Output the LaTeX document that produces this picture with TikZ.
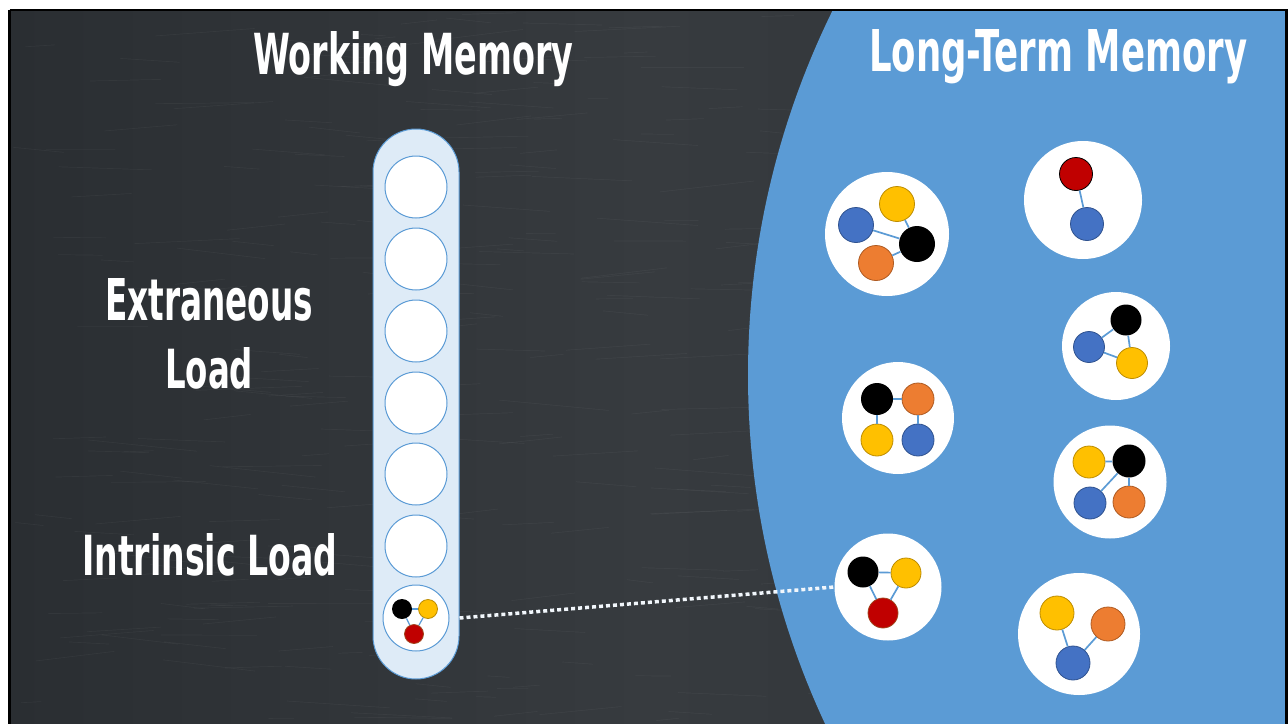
\documentclass[tikz,border=0pt]{standalone}
\usepackage{fontspec}
\usepackage{graphicx}
\newfontfamily\titlefont{DejaVu Sans Condensed}
\definecolor{ltm}{HTML}{5B9BD5}
\definecolor{capfill}{HTML}{DEEBF7}
\definecolor{nblue}{HTML}{4472C4}
\definecolor{nblueD}{HTML}{2F528F}
\definecolor{norange}{HTML}{ED7D31}
\definecolor{norangeD}{HTML}{AE5A21}
\definecolor{nyellow}{HTML}{FFC000}
\definecolor{nyellowD}{HTML}{BC8C00}
\definecolor{nred}{HTML}{C00000}
\definecolor{nredD}{HTML}{A0461E}
\definecolor{boardL}{HTML}{2A2E32}
\definecolor{boardM}{HTML}{373B3F}
\definecolor{boardR}{HTML}{2F3337}
\tikzset{
  wmcell/.style={circle, draw=ltm, fill=white, line width=1pt, minimum size=62pt, inner sep=0pt},
  grp/.style={circle, fill=white, inner sep=0pt},
  nd/.style={circle, inner sep=0pt, line width=0.8pt},
  bl/.style={nd, fill=nblue, draw=nblueD},
  og/.style={nd, fill=norange, draw=norangeD},
  yl/.style={nd, fill=nyellow, draw=nyellowD},
  rd/.style={nd, fill=nred, draw=nredD},
  bk/.style={nd, fill=black},
  edge/.style={draw=ltm, line width=1.7pt},
  title/.style={anchor=base west, inner sep=0pt, text=white},
  link/.style={draw=white!92!ltm, line width=3.5pt, dash pattern=on 4pt off 3pt}
}
\begin{document}
\begin{tikzpicture}[x=1pt,y=-1pt]
\useasboundingbox (0,0) rectangle (1288,723);
% board
\begin{scope}
  \clip (9.5,10) rectangle (1286.5,740);
  \shade[left color=boardL, right color=boardR, middle color=boardM] (9.5,10) rectangle (1286.5,740);
  \pgfmathsetseed{7}
  \foreach \i in {1,...,260}{
    \pgfmathsetmacro\xa{10+rnd*800}
    \pgfmathsetmacro\ya{12+rnd*710}
    \pgfmathsetmacro\len{20+rnd*90}
    \pgfmathsetmacro\ang{rand*7}
    \draw[white, opacity=0.04, line width=0.7pt] (\xa,\ya) -- ++(\ang:\len);
  }
  \fill[ltm] (1574,375) circle[radius=826];
\end{scope}
\draw[black, line width=2.5pt] (9.5,10) -- (1286.5,10) -- (1286.5,740);
\draw[black, line width=2.5pt] (9.5,10) -- (9.5,740);

% titles
\node[title] (twm) at (253,74) {\resizebox{320pt}{43pt}{\titlefont\bfseries Working Memory}};
\node[title] (tltm) at (869,71) {\resizebox{378pt}{42pt}{\titlefont\bfseries Long-Term Memory}};
\node[title] (text1) at (105,320) {\resizebox{208pt}{42pt}{\titlefont\bfseries Extraneous}};
\node[title] (text2) at (165,388) {\resizebox{88pt}{41pt}{\titlefont\bfseries Load}};
\node[title] (tint) at (82,575) {\resizebox{255pt}{42pt}{\titlefont\bfseries Intrinsic Load}};

% working memory capsule
\node[draw=ltm, fill=capfill, line width=1pt, rounded corners=43pt, minimum width=86pt, minimum height=550pt, inner sep=0pt] (cap) at (416,404) {};
\node[wmcell] (w1) at (416,187) {};
\node[wmcell] (w2) at (416,259) {};
\node[wmcell] (w3) at (416,331) {};
\node[wmcell] (w4) at (416,403) {};
\node[wmcell] (w5) at (416,474) {};
\node[wmcell] (w6) at (416,546) {};
\node[wmcell, minimum size=66pt] (w7) at (416,618) {};
\node[bk, minimum size=20pt] (w7k) at (402,609) {};
\node[yl, minimum size=19pt] (w7y) at (428,609) {};
\node[rd, minimum size=19pt] (w7r) at (414,634) {};
\draw[edge, line width=1.2pt] (w7k) -- (w7y);
\draw[edge, line width=1.2pt] (w7k) -- (w7r);
\draw[edge, line width=1.2pt] (w7y) -- (w7r);

% group A
\node[grp, minimum size=124pt] (gA) at (887,234) {};
\node[yl, minimum size=35pt] (aY) at (897,204) {};
\node[bl, minimum size=35pt] (aB) at (856,225) {};
\node[bk, minimum size=36pt] (aK) at (917,244) {};
\node[og, minimum size=35pt] (aO) at (876,263) {};
\draw[edge] (aB) -- (aK);
\draw[edge] (aY) -- (aK);
\draw[edge] (aO) -- (aK);

% group B
\node[grp, minimum size=118pt] (gB) at (1083,200) {};
\node[nd, fill=nred, draw=black, minimum size=33pt] (bR) at (1076,174) {};
\node[bl, minimum size=33pt] (bB) at (1087,224) {};
\draw[edge] (bR) -- (bB);

% group C
\node[grp, minimum size=108pt] (gC) at (1116,346) {};
\node[bk, minimum size=31pt] (cK) at (1126,320) {};
\node[bl, minimum size=31pt] (cB) at (1089,347) {};
\node[yl, minimum size=31pt] (cY) at (1132,363) {};
\draw[edge] (cB) -- (cK);
\draw[edge] (cK) -- (cY);
\draw[edge] (cB) -- (cY);

% group D
\node[grp, minimum size=112pt] (gD) at (898,418) {};
\node[bk, minimum size=32pt] (dK) at (877,399) {};
\node[og, minimum size=32pt] (dO) at (918,399) {};
\node[yl, minimum size=32pt] (dY) at (877,440) {};
\node[bl, minimum size=32pt] (dB) at (918,440) {};
\draw[edge] (dK) -- (dO);
\draw[edge] (dK) -- (dY);
\draw[edge] (dO) -- (dB);

% group E
\node[grp, minimum size=113pt] (gE) at (1110,482) {};
\node[yl, minimum size=32pt] (eY) at (1089,462) {};
\node[bk, minimum size=33pt] (eK) at (1129,461) {};
\node[bl, minimum size=32pt] (eB) at (1090,503) {};
\node[og, minimum size=32pt] (eO) at (1129,502) {};
\draw[edge] (eY) -- (eK);
\draw[edge] (eK) -- (eB);
\draw[edge] (eK) -- (eO);

% group F
\node[grp, minimum size=107pt] (gF) at (888,587) {};
\node[bk, minimum size=31pt] (fK) at (863,572) {};
\node[yl, minimum size=30pt] (fY) at (906,573) {};
\node[rd, minimum size=30pt] (fR) at (883,613) {};
\draw[edge] (fK) -- (fY);
\draw[edge] (fK) -- (fR);
\draw[edge] (fY) -- (fR);

% group G
\node[grp, minimum size=122pt] (gG) at (1079,634) {};
\node[yl, minimum size=34pt] (gY) at (1057,613) {};
\node[og, minimum size=34pt] (gO) at (1108,624) {};
\node[bl, minimum size=34pt] (gBl) at (1073,663) {};
\draw[edge] (gY) -- (gBl);
\draw[edge] (gO) -- (gBl);

% link
\coordinate (linkstart) at (cap.east |- w7);
\draw[link] (linkstart) -- (gF.west);
\end{tikzpicture}
\end{document}
